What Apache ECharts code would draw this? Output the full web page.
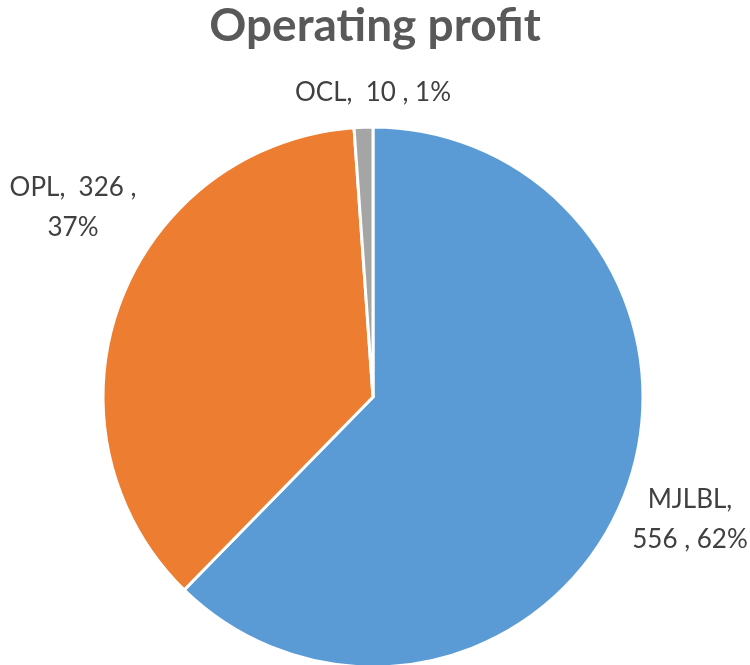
<!DOCTYPE html>
<html>
<head>
<meta charset="utf-8">
<script src="https://cdn.jsdelivr.net/npm/echarts@6/dist/echarts.min.js"></script>
<style>
  html, body { margin: 0; padding: 0; background: #fff; }
  #chart { width: 750px; height: 665px; }
</style>
</head>
<body>
<div id="chart"></div>
<script>
const companies = ['MJLBL', 'OPL', 'OCL'];
const profits = [556, 326, 10];
const shares = ['62%', '37%', '1%'];
const colors = ['#5B9BD5', '#ED7D31', '#A5A5A5'];

// where each label sits (centre of text block)
const labelSpots = [[690, 520], [73, 208], [373, 93]];
const labelText = [
  (i) => companies[i] + ',\n' + profits[i] + ' , ' + shares[i],
  (i) => companies[i] + ',  ' + profits[i] + ' ,\n' + shares[i],
  (i) => companies[i] + ',  ' + profits[i] + ' , ' + shares[i],
];

const chart = echarts.init(document.getElementById('chart'));
chart.setOption({
  animation: false,
  title: {
    text: 'Operating profit',
    left: 'center',
    top: -2,
    textStyle: {
      fontFamily: 'Lato',
      fontWeight: 'bold',
      fontSize: 46,
      color: '#595959',
    },
  },
  series: [{
    type: 'pie',
    center: [373, 397],
    radius: 270,
    startAngle: 90,
    clockwise: true,
    itemStyle: { borderColor: '#fff', borderWidth: 3 },
    label: {
      show: true,
      position: 'outside',
      overflow: 'none',
      fontFamily: 'Lato',
      fontSize: 26,
      lineHeight: 40,
      color: '#404040',
      align: 'center',
      formatter: (p) => labelText[p.dataIndex](p.dataIndex),
    },
    labelLine: { show: false },
    labelLayout: (p) => ({
      x: labelSpots[p.dataIndex][0],
      y: labelSpots[p.dataIndex][1],
      align: 'center',
      verticalAlign: 'middle',
    }),
    data: companies.map((name, i) => ({
      name,
      value: profits[i],
      itemStyle: { color: colors[i] },
    })),
  }],
});
</script>
</body>
</html>
